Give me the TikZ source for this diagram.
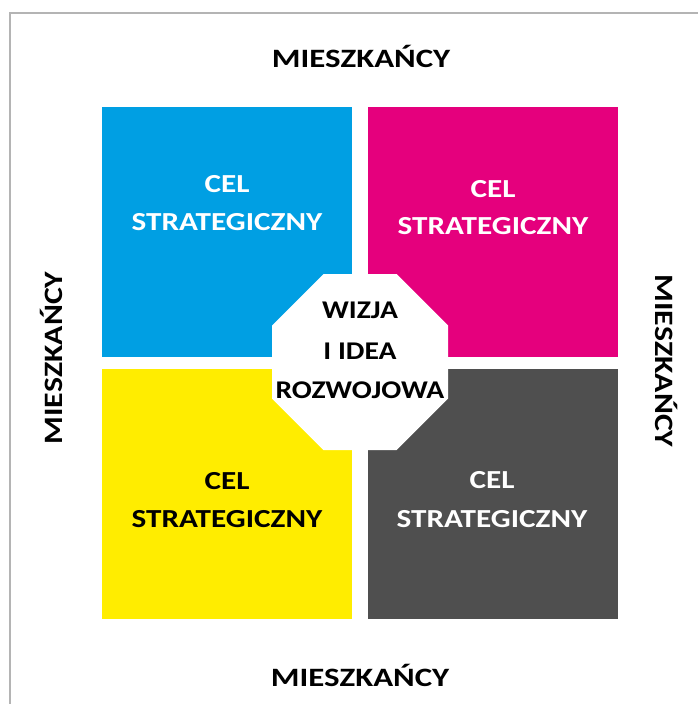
\documentclass[tikz,border=0pt]{standalone}
\usepackage{fontspec}
\setmainfont{Carlito}
\definecolor{cblue}{HTML}{009FE3}
\definecolor{cmag}{HTML}{E5007D}
\definecolor{cyel}{HTML}{FFED00}
\definecolor{cdark}{HTML}{4F4F4F}
\definecolor{bordergray}{HTML}{B4B4B4}
\newcommand{\wide}[1]{\scalebox{1.2}[1]{#1}}
\newcommand{\wider}[1]{\scalebox{1.16}[1]{#1}}
\newcommand{\widest}[2]{\scalebox{#1}[1]{#2}}
\tikzset{
  lbl/.style={font=\bfseries\fontsize{26.5}{30}\selectfont, inner sep=0pt, anchor=base},
  cel/.style={font=\bfseries\fontsize{26}{30}\selectfont, inner sep=0pt, anchor=base},
  oct/.style={font=\bfseries\fontsize{25.5}{30}\selectfont, inner sep=0pt, anchor=base},
}
\begin{document}
\begin{tikzpicture}[x=1pt,y=-1pt]
\useasboundingbox (0,0) rectangle (698,704);
\fill[white] (0,0) rectangle (698,704);
\draw[bordergray, line width=1.5pt] (10,704) -- (10,13) -- (698,13);
% squares
\fill[cblue] (102,107) rectangle (352,357);
\fill[cmag] (368,107) rectangle (618,357);
\fill[cyel] (102,369) rectangle (352,619);
\fill[cdark] (368,369) rectangle (618,619);
% octagon
\fill[white] (323.5,274) -- (396.5,274) -- (448,325.5) -- (448,398.5) -- (396.5,450) -- (323.5,450) -- (272,398.5) -- (272,325.5) -- cycle;
% texts
\node[cel, white] (b1) at (227,192) {\wide{CEL}};
\node[cel, white] (b2) at (227,230) {\wide{STRATEGICZNY}};
\node[cel, white] (m1) at (493,197) {\wide{CEL}};
\node[cel, white] (m2) at (493,234) {\wide{STRATEGICZNY}};
\node[cel, black] (y1) at (227,489) {\wide{CEL}};
\node[cel, black] (y2) at (227,527) {\wide{STRATEGICZNY}};
\node[cel, white] (d1) at (492,488) {\wide{CEL}};
\node[cel, white] (d2) at (492,527) {\wide{STRATEGICZNY}};
\node[oct] (w1) at (360,318) {\wider{WIZJA}};
\node[oct] (w2) at (360,359) {\wider{I IDEA}};
\node[oct] (w3) at (360,398) {\wider{ROZWOJOWA}};
\node[lbl] (top) at (361,67) {\widest{1.24}{MIESZKAŃCY}};
\node[lbl] (bot) at (360,686) {\widest{1.24}{MIESZKAŃCY}};
\node[lbl, rotate=90] (left) at (62,358) {\widest{1.2}{MIESZKAŃCY}};
\node[lbl, rotate=-90] (right) at (655,361) {\widest{1.2}{MIESZKAŃCY}};
\end{tikzpicture}
\end{document}
